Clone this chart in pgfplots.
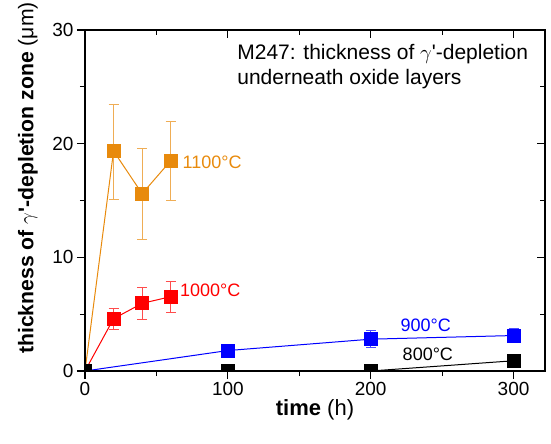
\documentclass[border=0pt]{standalone}
\usepackage{pgfplots}
\pgfplotsset{compat=1.18}
\usepackage{fontspec}
\setmainfont{Liberation Sans}
\definecolor{orng}{RGB}{232,138,12}
\definecolor{rd}{RGB}{255,0,0}
\definecolor{bl}{RGB}{0,0,255}

\pgfplotstableread{
x y ep em
0 0 0 0
20 19.35 4.15 4.25
40 15.6 4.0 4.0
60 18.5 3.5 3.5
}\tA
\pgfplotstableread{
x y ep em
0 0 0 0
20 4.6 0.9 0.9
40 5.95 1.4 1.45
60 6.54 1.35 1.35
}\tB
\pgfplotstableread{
x y ep em
0 0 0 0
100 1.8 0.2 0.2
200 2.8 0.75 0.72
300 3.12 0.6 0.6
}\tC
\pgfplotstableread{
x y
0 0
100 0
200 0
300 0.9
}\tD

\begin{document}
\begin{tikzpicture}
\path[use as bounding box] (-85pt,-73pt) rectangle (466pt,371pt);
\pgfplotsset{
  common/.style={
    scale only axis, width=460pt, height=341pt,
    xmin=0, xmax=322, ymin=0, ymax=30,
    xtick={0,100,200,300}, minor xtick={50,150,250},
    ytick={0,10,20,30}, minor ytick={5,15,25},
    major tick length=8pt, minor tick length=5pt,
    every tick/.style={black, line width=1.2pt},
    axis line style={line width=1.3pt},
    font=\fontsize{19}{22}\selectfont,
    /pgf/number format/assume math mode=true,
  }
}
\begin{axis}[common,
  tick pos=left, tick align=outside,
  clip marker paths=true,
  xlabel={\textbf{time} (h)},
  ylabel={\textbf{thickness of $\gamma$\textquotesingle-depletion zone} (μm)},
  xlabel style={font=\fontsize{22}{25}\selectfont, at={(axis description cs:0.5,-0.115)}, anchor=center},
  ylabel style={font=\fontsize{21.2}{25}\selectfont, at={(axis description cs:-0.124,0.566)}, anchor=center, rotate=0},
]
\addplot[orng, line width=1pt, mark=square*, mark size=6.5pt, mark options={solid, fill=orng},
  error bars/.cd, y dir=both, y explicit,
  error bar style={orng!70, line width=0.7pt},
  error mark options={rotate=90, mark size=5pt, orng!70, line width=0.7pt}]
  table[x=x, y=y, y error plus=ep, y error minus=em] {\tA};
\addplot[rd, line width=1pt, mark=square*, mark size=6.5pt, mark options={solid, fill=rd},
  error bars/.cd, y dir=both, y explicit,
  error bar style={rd!70, line width=0.7pt},
  error mark options={rotate=90, mark size=5pt, rd!70, line width=0.7pt}]
  table[x=x, y=y, y error plus=ep, y error minus=em] {\tB};
\addplot[bl, line width=1pt, mark=square*, mark size=6.5pt, mark options={solid, fill=bl},
  error bars/.cd, y dir=both, y explicit,
  error bar style={bl!70, line width=0.7pt},
  error mark options={rotate=90, mark size=5pt, bl!70, line width=0.7pt}]
  table[x=x, y=y, y error plus=ep, y error minus=em] {\tC};
\addplot[black, line width=1pt, mark=square*, mark size=6.5pt, mark options={solid, fill=black}]
  table[x=x, y=y] {\tD};

\node[anchor=west, text=orng, font=\fontsize{18}{21}\selectfont, inner sep=0pt] at (axis cs:68.2,18.4) {1100°C};
\node[anchor=west, text=rd, font=\fontsize{18}{21}\selectfont, inner sep=0pt] at (axis cs:66.4,7.12) {1000°C};
\node[text=bl, font=\fontsize{18}{21}\selectfont] at (axis cs:238.5,4.05) {900°C};
\node[text=black, font=\fontsize{18}{21}\selectfont] at (axis cs:240,1.45) {800°C};
\node[anchor=north west, align=left, font=\fontsize{21}{24.5}\selectfont, inner sep=0pt] at (axis cs:106.5,28.76)
  {M247: thickness of $\gamma$\textquotesingle-depletion\\underneath oxide layers};
\end{axis}
\begin{axis}[common,
  tick pos=right, tick align=inside,
  xticklabels={}, yticklabels={},
]
\end{axis}
\end{tikzpicture}
\end{document}
